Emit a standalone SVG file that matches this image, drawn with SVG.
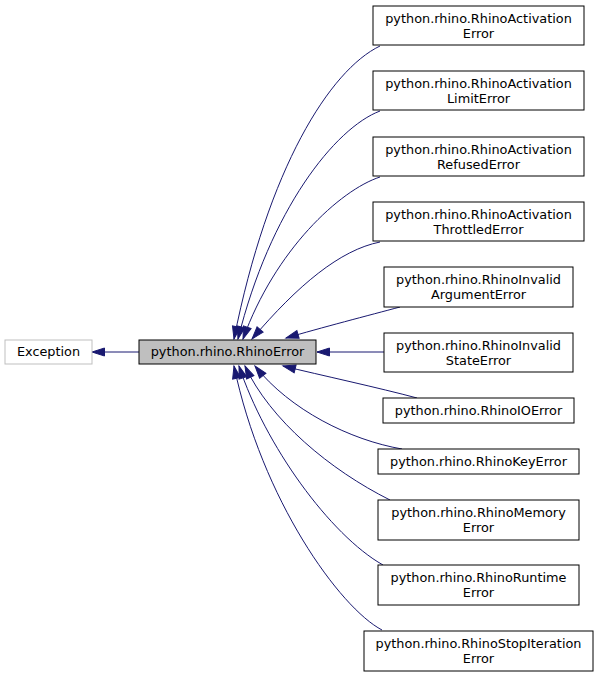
<svg xmlns="http://www.w3.org/2000/svg" width="599" height="677" viewBox="0 0 599 677">
<style>
.n rect{fill:#fff;stroke:#000;stroke-width:1}
.n text{font-family:"DejaVu Sans",sans-serif;font-size:12.85px;text-anchor:middle;fill:#000}
#edges path{fill:none;stroke:#191970;stroke-width:1;marker-end:url(#ah)}
</style>
<defs>
<marker id="ah" markerUnits="userSpaceOnUse" markerWidth="15" markerHeight="11" refX="13" refY="4.5" orient="auto" overflow="visible">
<path d="M0.5,0.5 L13,4.5 L0.5,8.5 Z" fill="#191970" stroke="#191970" stroke-width="1"/>
</marker>
</defs>
<rect width="599" height="677" fill="#fff"/>
<g id="edges">
<path d="M139,352 L92,352"/>
<path d="M380,46 C330,70 268,168 234,339"/>
<path d="M380,111 C335,128 270,210 238,339"/>
<path d="M380,177 C340,190 275,250 243,339"/>
<path d="M380,242 C340,250 298,285 252,339"/>
<path d="M400,307 C370,315 320,328 286,338"/>
<path d="M384,352 L317,352"/>
<path d="M417,398 C380,388 320,375 283,366"/>
<path d="M402,449 C350,440 290,410 255,366"/>
<path d="M390,500 C330,470 270,420 245,366"/>
<path d="M383,565 C330,535 265,445 239,366"/>
<path d="M382,630 C340,608 262,500 234,366"/>
</g>
<g id="exception" class="n"><rect x="5" y="340" width="87" height="24" style="stroke:#bfbfbf"/><text x="48.5" y="356">Exception</text></g>
<g id="rhinoerror" class="n"><rect x="139" y="340" width="177" height="24" style="fill:#bfbfbf"/><text x="227.5" y="356">python.rhino.RhinoError</text></g>
<g id="activation" class="n"><rect x="373" y="6" width="211" height="39"/><text x="478.5" y="23">python.rhino.RhinoActivation</text><text x="478.5" y="37.5">Error</text></g>
<g id="activationlimit" class="n"><rect x="373" y="71" width="211" height="39"/><text x="478.5" y="88">python.rhino.RhinoActivation</text><text x="478.5" y="102.5">LimitError</text></g>
<g id="activationrefused" class="n"><rect x="373" y="137" width="211" height="39"/><text x="478.5" y="154">python.rhino.RhinoActivation</text><text x="478.5" y="168.5">RefusedError</text></g>
<g id="activationthrottled" class="n"><rect x="373" y="202" width="211" height="39"/><text x="478.5" y="219">python.rhino.RhinoActivation</text><text x="478.5" y="233.5">ThrottledError</text></g>
<g id="invalidargument" class="n"><rect x="384" y="267" width="189" height="40"/><text x="478.5" y="284">python.rhino.RhinoInvalid</text><text x="478.5" y="298.5">ArgumentError</text></g>
<g id="invalidstate" class="n"><rect x="384" y="333" width="189" height="39"/><text x="478.5" y="350">python.rhino.RhinoInvalid</text><text x="478.5" y="364.5">StateError</text></g>
<g id="ioerror" class="n"><rect x="383" y="398" width="191" height="25"/><text x="478.5" y="414.5">python.rhino.RhinoIOError</text></g>
<g id="keyerror" class="n"><rect x="378" y="449" width="201" height="25"/><text x="478.5" y="465.5">python.rhino.RhinoKeyError</text></g>
<g id="memory" class="n"><rect x="378" y="500" width="201" height="40"/><text x="478.5" y="517">python.rhino.RhinoMemory</text><text x="478.5" y="531.5">Error</text></g>
<g id="runtime" class="n"><rect x="378" y="565" width="201" height="40"/><text x="478.5" y="582">python.rhino.RhinoRuntime</text><text x="478.5" y="596.5">Error</text></g>
<g id="stopiteration" class="n"><rect x="364" y="631" width="229" height="40"/><text x="478.5" y="648">python.rhino.RhinoStopIteration</text><text x="478.5" y="662.5">Error</text></g>
</svg>
